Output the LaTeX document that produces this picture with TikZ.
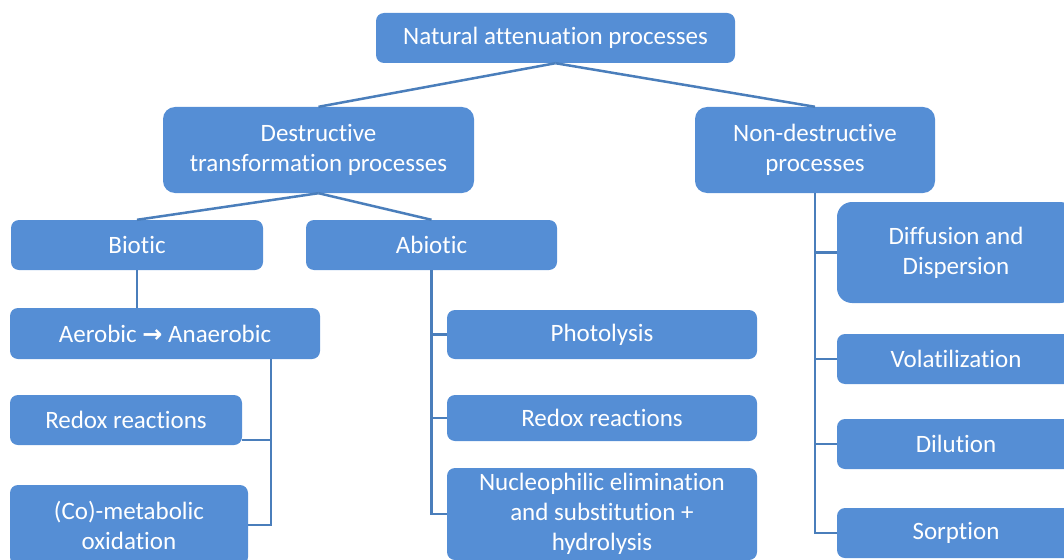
\documentclass[tikz,border=0pt]{standalone}
\usepackage{fontspec}
\setmainfont{Carlito}[Ligatures=CommonOff]
\newfontfamily\arrowfont{DejaVu Sans}
\definecolor{boxblue}{HTML}{558ED5}
\definecolor{lineblue}{HTML}{4A7EBB}

\begin{document}
\begin{tikzpicture}[x=1pt,y=1pt,
    box/.style={fill=boxblue, text=white, rounded corners=8pt, inner sep=0pt,
      align=center, font=\fontsize{25}{30}\selectfont},
    link/.style={draw=lineblue, line width=2.5pt}]
    \useasboundingbox (0,0) rectangle (1064,-559);
    \clip (0,0) rectangle (1064,-559);
    % top level
    \node [box, minimum width=359, minimum height=50] (natural) at (555.5,-38) {Natural attenuation processes};
    \node [box, rounded corners=12pt, minimum width=311, minimum height=86] (destr) at (318.5,-150) {Destructive\\transformation processes};
    \node [box, rounded corners=12pt, minimum width=240, minimum height=86] (nondestr) at (815,-150) {Non-destructive\\processes};
    % destructive branch
    \node [box, minimum width=252, minimum height=50] (biotic) at (137,-245) {Biotic};
    \node [box, minimum width=251, minimum height=50] (abiotic) at (431.5,-245) {Abiotic};
    \node [box, minimum width=310, minimum height=51] (aerobic) at (165,-333.5) {Aerobic {\arrowfont\bfseries\fontsize{24}{24}\selectfont →} Anaerobic};
    \node [box, minimum width=232, minimum height=50] (redoxb) at (126,-420) {Redox reactions};
    \node [box, minimum width=238, minimum height=80] (cometab) at (129,-525) {(Co)-metabolic\\oxidation};
    \node [box, minimum width=310, minimum height=49] (photolysis) at (602,-334.5) {Photolysis};
    \node [box, minimum width=310, minimum height=46] (redoxa) at (602,-418) {Redox reactions};
    \node [box, minimum width=310, minimum height=92] (nucleo) at (602,-514) {Nucleophilic elimination\\and substitution +\\hydrolysis};
    % non-destructive branch
    \node [box, rounded corners=15pt, minimum width=238, minimum height=101] (diffusion) at (956,-252.5) {Diffusion and\\Dispersion};
    \node [box, minimum width=238, minimum height=50] (volat) at (956,-359) {Volatilization};
    \node [box, minimum width=238, minimum height=50] (dilution) at (956,-444) {Dilution};
    \node [box, minimum width=238, minimum height=50] (sorption) at (956,-533) {Sorption};
    % connectors
    \draw [link] (natural.south) -- (destr.north);
    \draw [link] (natural.south) -- (nondestr.north);
    \draw [link] (destr.south) -- (biotic.north);
    \draw [link] (destr.south) -- (abiotic.north);
    \draw [link] (biotic.south) -- (biotic.south |- aerobic.north);
    \coordinate (biojoint) at ([xshift=106]aerobic.south);
    \draw [link] (biojoint) |- (cometab.east);
    \draw [link] ([yshift=-20]redoxb.east) -| (biojoint);
    \draw [link] (abiotic.south) |- (photolysis.west);
    \draw [link] (abiotic.south) |- (redoxa.west);
    \draw [link] (abiotic.south) |- (nucleo.west);
    \draw [link] (nondestr.south) |- (diffusion.west);
    \draw [link] (nondestr.south) |- (volat.west);
    \draw [link] (nondestr.south) |- (dilution.west);
    \draw [link] (nondestr.south) |- (sorption.west);
\end{tikzpicture}
\end{document}
